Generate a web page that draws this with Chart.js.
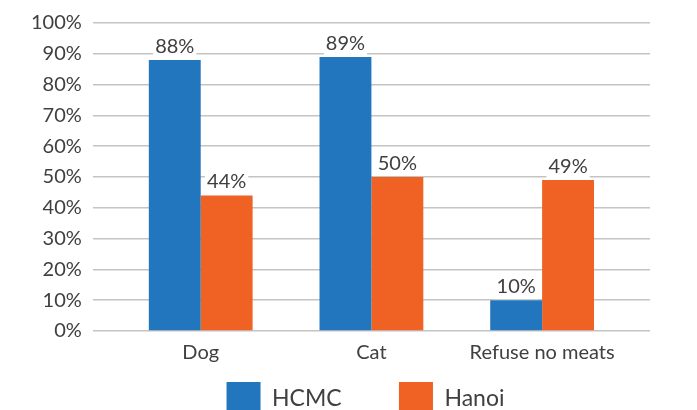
<!DOCTYPE html>
<html lang="en">
<head>
    <meta charset="UTF-8">
    <script src="https://cdn.jsdelivr.net/npm/chart.js"></script>
    <title>Meat survey</title>
    <style>
        * { margin: 0; padding: 0; box-sizing: border-box; }
        body { background: #fff; overflow: hidden; }
    </style>
</head>
<body>
    <canvas id="chart" width="697" height="426"></canvas>
<script>
    const categories = ['Dog', 'Cat', 'Refuse no meats'];
    const hcmc = [88, 89, 10];
    const hanoi = [44, 50, 49];
    const seriesNames = ['HCMC', 'Hanoi'];

    const blue = '#2176bd';
    const orange = '#f06124';
    const textColor = '#404040';

    // value labels above bars, with a white box that cuts the gridline
    const valueLabels = {
        id: 'valueLabels',
        afterDatasetsDraw(chart) {
            const ctx = chart.ctx;
            ctx.save();
            ctx.font = '20px Lato';
            ctx.textAlign = 'center';
            ctx.textBaseline = 'alphabetic';
            chart.data.datasets.forEach((ds, di) => {
                chart.getDatasetMeta(di).data.forEach((bar, i) => {
                    const txt = ds.data[i].y + '%';
                    const w = ctx.measureText(txt).width;
                    ctx.fillStyle = '#fff';
                    ctx.fillRect(bar.x - w / 2 - 2, bar.y - 25, w + 4, 24);
                    ctx.fillStyle = textColor;
                    ctx.fillText(txt, bar.x, bar.y - 7);
                });
            });
            ctx.restore();
        }
    };

    const toPoints = arr => arr.map((v, i) => ({ x: i, y: v }));

    new Chart(document.getElementById('chart'), {
        type: 'bar',
        data: {
            datasets: [{
                label: seriesNames[0],
                data: toPoints(hcmc),
                backgroundColor: blue,
                borderWidth: 0,
                categoryPercentage: 0.608,
                barPercentage: 1
            }, {
                label: seriesNames[1],
                data: toPoints(hanoi),
                backgroundColor: orange,
                borderWidth: 0,
                categoryPercentage: 0.608,
                barPercentage: 1
            }]
        },
        options: {
            responsive: false,
            animation: false,
            devicePixelRatio: 1,
            layout: { padding: { top: 23, left: 20, right: 47, bottom: 0 } },
            plugins: {
                tooltip: { enabled: false },
                legend: {
                    position: 'bottom',
                    fullSize: false,
                    labels: {
                        boxWidth: 34,
                        boxHeight: 34,
                        padding: 11,
                        color: textColor,
                        font: { family: 'Lato', size: 23 },
                        // extra trailing space spreads the two entries apart
                        generateLabels(chart) {
                            const items = Chart.defaults.plugins.legend.labels.generateLabels(chart);
                            items[0].text = items[0].text + '\u2003\u2003  ';
                            items[1].text = items[1].text + '  ';
                            return items;
                        }
                    }
                }
            },
            scales: {
                x: {
                    type: 'linear',
                    offset: false,
                    min: -0.632,
                    max: 2.632,
                    grid: { display: false },
                    border: { display: false },
                    afterBuildTicks(scale) {
                        scale.ticks = categories.map((c, i) => ({ value: i }));
                    },
                    afterFit(scale) {
                        scale.height += 4;
                    },
                    ticks: {
                        padding: 2,
                        color: textColor,
                        font: { family: 'Lato', size: 20 },
                        callback: v => categories[v]
                    }
                },
                y: {
                    min: 0,
                    max: 100,
                    grid: { color: '#c4c4c4', lineWidth: 1.5, drawTicks: false },
                    border: { display: false },
                    ticks: {
                        stepSize: 10,
                        padding: 11,
                        color: textColor,
                        font: { family: 'Lato', size: 20 },
                        callback: v => v + '%'
                    }
                }
            }
        },
        plugins: [valueLabels]
    });
</script>
</body>
</html>
